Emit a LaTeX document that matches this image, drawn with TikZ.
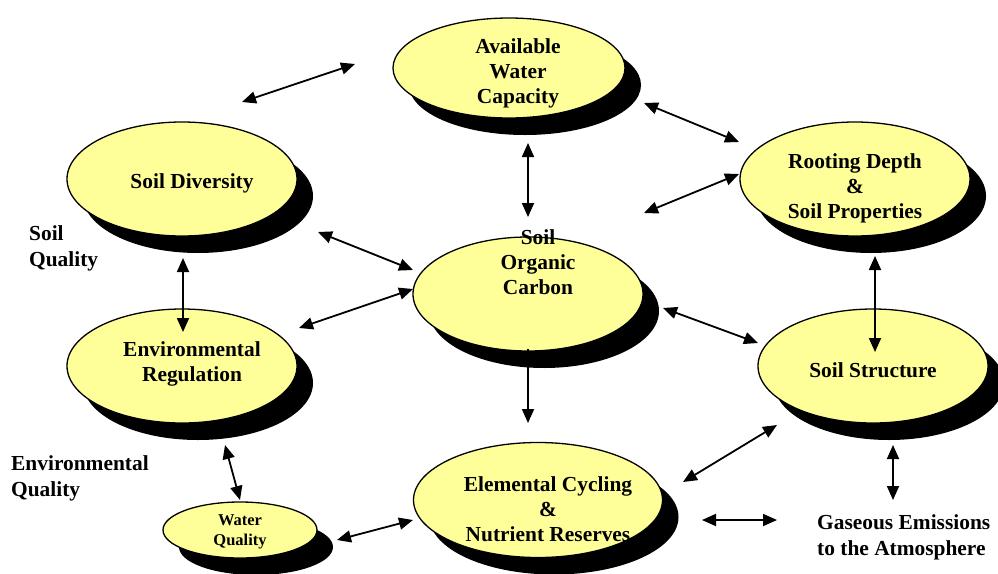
\documentclass[tikz,border=0pt]{standalone}
\usepackage{fontspec}
\setmainfont{Liberation Serif}
\usetikzlibrary{shapes.geometric,shadows,arrows.meta}
\definecolor{lemon}{HTML}{FFFF99}

\begin{document}
\begin{tikzpicture}[x=1pt,y=-1pt,
  blob/.style={ellipse,draw=black,line width=1.3pt,fill=lemon,
    minimum width=230pt,minimum height=114pt,inner sep=0pt,
    drop shadow={shadow xshift=16pt,shadow yshift=-17pt,fill=black,opacity=1}},
  lbl/.style={font=\fontsize{21.4}{25}\selectfont\bfseries,align=center,inner sep=0pt},
  side/.style={lbl,anchor=west,align=left,font=\fontsize{21.4}{26}\selectfont\bfseries},
  both/.style={{Triangle[length=14pt,width=12pt]}-{Triangle[length=14pt,width=12pt]},line width=1.8pt},
  one/.style={-{Triangle[length=14pt,width=12pt]},line width=1.8pt}]
\useasboundingbox (0,0) rectangle (998,573);

% ellipses
\node[blob,minimum width=232pt,minimum height=100pt](awc)at(509,68){};
\node[blob](sd)at(182,179){};
\node[blob](soc)at(528,294){};
\node[blob](rd)at(855,179){};
\node[blob](er)at(182,366){};
\node[blob](ss)at(873,366){};
\node[blob,minimum width=249pt,minimum height=115pt](ec)at(538,500){};
\node[blob,minimum width=154pt,minimum height=56pt](wq)at(240,530){};

% texts
\node[lbl](awc-t)at(518,73){Available\\Water\\Capacity};
\node[lbl](sd-t)at(192,183){Soil Diversity};
\node[lbl](soc-t)at(538,262){Soil\\Organic\\Carbon};
\node[lbl](rd-t)at(855,188){Rooting Depth\\\&\\Soil Properties};
\node[lbl](er-t)at(192,364){Environmental\\Regulation};
\node[lbl](ss-t)at(873,370){Soil Structure};
\node[lbl](ec-t)at(548,509){Elemental Cycling\\\&\\Nutrient Reserves};
\node[lbl,font=\fontsize{16.5}{20}\selectfont\bfseries](wq-t)at(240,532){Water\\Quality};
\node[side](sq)at(29,248){Soil\\Quality};
\node[side](eq)at(11,478){Environmental\\Quality};
\node[side](ge)at(817,537){Gaseous Emissions\\to the Atmosphere};

% arrow ends
\coordinate(tl1)at(242,102);  \coordinate(tl2)at(355,64);
\coordinate(awc-s)at(528,143); \coordinate(soc-n)at(528,217);
\coordinate(awc-e)at(644,103); \coordinate(rd-w1)at(739,142);
\coordinate(rd-w2)at(739,174); \coordinate(soc-ne)at(644,213);
\coordinate(sd-se)at(318,232); \coordinate(soc-w1)at(413,270);
\coordinate(soc-w2)at(413,289); \coordinate(er-ne)at(299,328);
\coordinate(sd-s)at(183,258); \coordinate(er-n)at(183,332);
\coordinate(soc-e)at(663,308); \coordinate(ss-w)at(758,343);
\coordinate(soc-s)at(528,349); \coordinate(ec-n)at(528,423);
\coordinate(rd-s)at(875,256); \coordinate(ss-n)at(875,352);
\coordinate(er-s)at(225,445); \coordinate(wq-n)at(240,500);
\coordinate(wq-e)at(337,540); \coordinate(ec-w)at(413,520);
\coordinate(ec-ne)at(683,482); \coordinate(ss-sw)at(777,425);
\coordinate(ss-s)at(893,445); \coordinate(ge-n)at(893,500);
\coordinate(ec-e)at(702,520); \coordinate(ge-w)at(777,520);

% connectors
\draw[both](tl1)--(tl2);
\draw[both](awc-s)--(soc-n);
\draw[both](awc-e)--(rd-w1);
\draw[both](rd-w2)--(soc-ne);
\draw[both](sd-se)--(soc-w1);
\draw[both](soc-w2)--(er-ne);
\draw[both](sd-s)--(er-n);
\draw[both](soc-e)--(ss-w);
\draw[one](soc-s)--(ec-n);
\draw[both](rd-s)--(ss-n);
\draw[both](er-s)--(wq-n);
\draw[both](wq-e)--(ec-w);
\draw[both](ec-ne)--(ss-sw);
\draw[both](ss-s)--(ge-n);
\draw[both](ec-e)--(ge-w);
\end{tikzpicture}
\end{document}
